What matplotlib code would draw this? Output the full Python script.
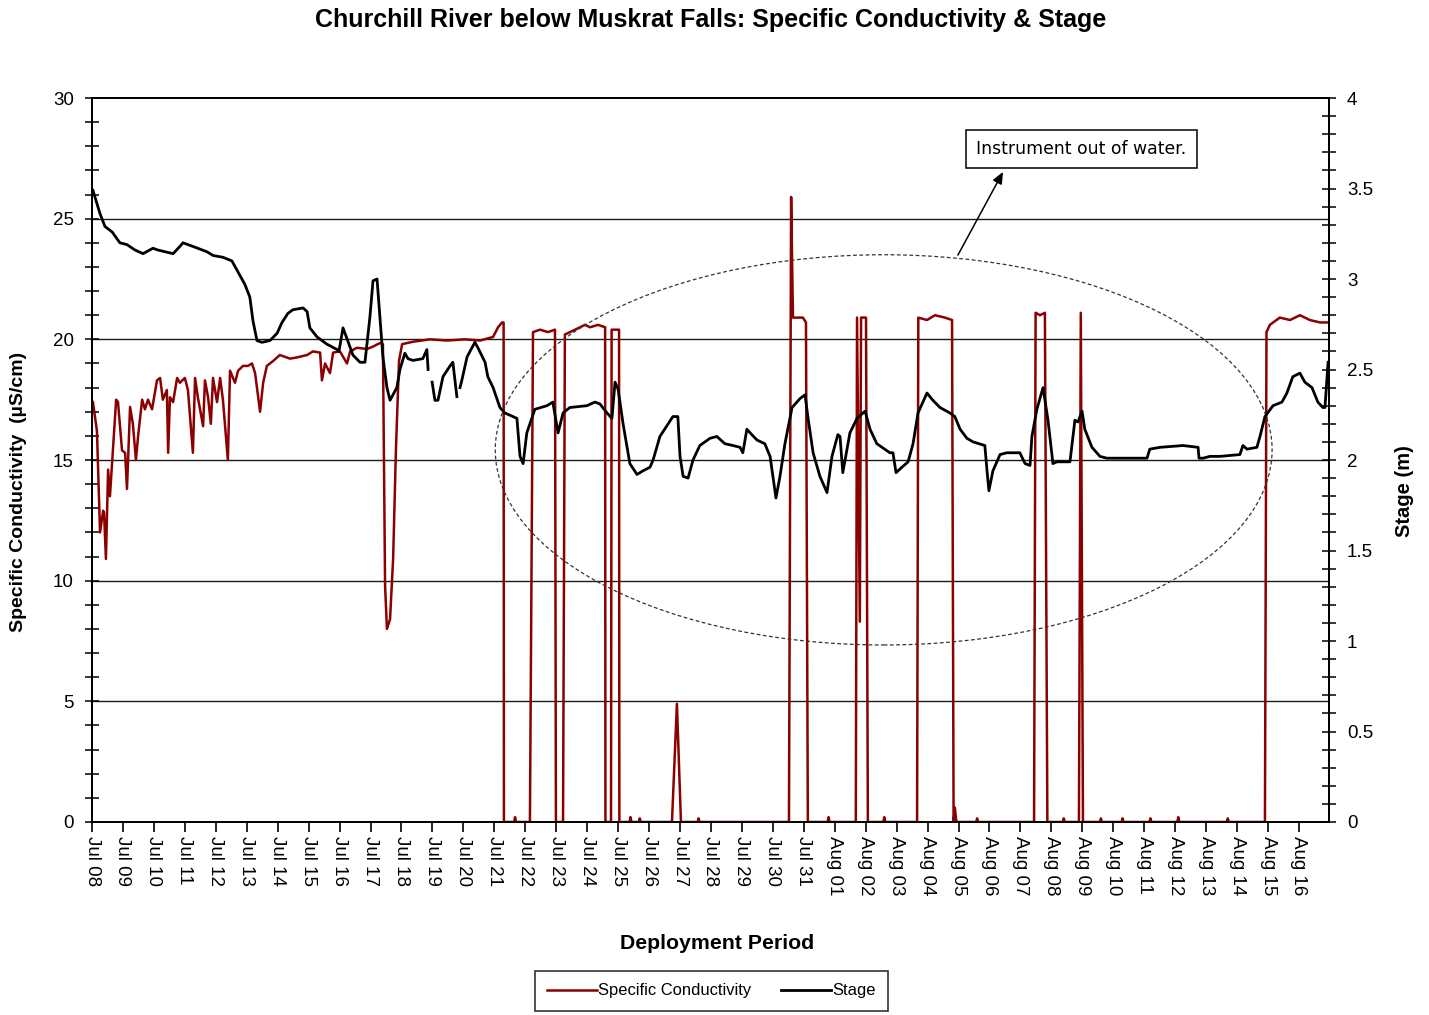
import numpy as np
import pandas as pd
import matplotlib
matplotlib.use('Agg')
import matplotlib.pyplot as plt
import matplotlib.dates as mdates
from matplotlib.patches import Ellipse
from matplotlib.ticker import MultipleLocator

start = pd.Timestamp('2011-07-08')

# ---- Specific conductivity (uS/cm): time in days since Jul 08 00:00
cond_day = [0.03, 0.16, 0.26, 0.36, 0.39, 0.45, 0.52, 0.58, 0.68, 0.78, 0.84, 0.97, 1.07, 1.13,
            1.23, 1.32, 1.42, 1.49, 1.62, 1.71, 1.81, 1.94, 2.10, 2.20, 2.29, 2.42, 2.46, 2.52,
            2.62, 2.75, 2.84, 3.00, 3.10, 3.26, 3.33, 3.42, 3.59, 3.65, 3.75, 3.84, 3.91, 4.04,
            4.14, 4.23, 4.39, 4.46, 4.62, 4.72, 4.88, 5.04, 5.17, 5.27, 5.43, 5.53, 5.65, 5.85,
            6.07, 6.40, 6.62, 6.95, 7.14, 7.37, 7.43, 7.53, 7.69, 7.79, 8.01, 8.24, 8.34, 8.56,
            8.89, 9.08, 9.31, 9.40, 9.47, 9.53, 9.63, 9.73, 9.82, 9.92, 10.02, 10.37, 10.92,
            11.47, 12.05, 12.54, 12.96, 13.12, 13.25, 13.30,
            13.31, 13.64, 13.67, 13.70, 14.15,
            14.25, 14.48, 14.73, 14.96, 14.99, 15.22,
            15.28, 15.61, 15.93, 16.09, 16.35, 16.58, 16.59, 16.77,
            16.79, 17.03, 17.04, 17.37, 17.40, 17.43, 17.67, 17.70, 17.73,
            18.74, 18.90, 19.03, 19.57, 19.60, 19.63,
            22.52, 22.59, 22.65, 22.97, 23.07, 23.13, 23.77, 23.80, 23.83,
            24.68, 24.72, 24.81, 24.85, 25.01, 25.07, 25.57, 25.60, 25.63,
            26.66, 26.70, 26.98, 27.24, 27.56, 27.79, 27.84, 27.88, 27.93, 28.57, 28.60, 28.63,
            30.44, 30.49, 30.63, 30.79, 30.87, 31.37, 31.40, 31.43,
            31.89, 31.95, 32.02, 32.57, 32.60, 32.63, 33.27, 33.30, 33.33, 34.17, 34.20, 34.23,
            35.07, 35.10, 35.13, 36.67, 36.70, 36.73,
            37.90, 37.95, 38.06, 38.38, 38.71, 39.03, 39.35, 39.68, 39.97]
cond_val = [17.4, 16.2, 12.0, 12.9, 12.8, 10.9, 14.6, 13.5, 15.5, 17.5, 17.4, 15.4, 15.3, 13.8,
            17.2, 16.5, 15.0, 16.0, 17.5, 17.1, 17.5, 17.1, 18.3, 18.4, 17.5, 17.9, 15.3, 17.6,
            17.4, 18.4, 18.2, 18.4, 17.9, 15.3, 18.4, 17.6, 16.4, 18.3, 17.6, 16.5, 18.4, 17.4,
            18.4, 17.5, 15.0, 18.7, 18.2, 18.7, 18.9, 18.9, 19.0, 18.6, 17.0, 18.2, 18.9, 19.1,
            19.35, 19.2, 19.25, 19.35, 19.5, 19.45, 18.3, 19.0, 18.6, 19.45, 19.5, 19.0, 19.5, 19.65,
            19.6, 19.7, 19.85, 19.8, 9.8, 8.0, 8.4, 10.9, 15.4, 19.1, 19.8, 19.9, 20.0,
            19.95, 20.0, 19.95, 20.1, 20.5, 20.7, 20.7,
            0.0, 0.0, 0.2, 0.0, 0.0,
            20.3, 20.4, 20.3, 20.4, 0.0, 0.0,
            20.2, 20.4, 20.6, 20.5, 20.6, 20.5, 0.0, 0.0,
            20.4, 20.4, 0.0, 0.0, 0.2, 0.0, 0.0, 0.15, 0.0,
            0.0, 4.9, 0.0, 0.0, 0.15, 0.0,
            0.0, 25.9, 20.9, 20.9, 20.7, 0.0, 0.0, 0.2, 0.0,
            0.0, 20.9, 8.3, 20.9, 20.9, 0.0, 0.0, 0.2, 0.0,
            0.0, 20.9, 20.8, 21.0, 20.9, 20.8, 0.0, 0.6, 0.0, 0.0, 0.15, 0.0,
            0.0, 21.1, 21.0, 21.1, 0.0, 0.0, 0.15, 0.0,
            0.0, 21.1, 0.0, 0.0, 0.15, 0.0, 0.0, 0.15, 0.0, 0.0, 0.15, 0.0,
            0.0, 0.2, 0.0, 0.0, 0.15, 0.0,
            0.0, 20.3, 20.6, 20.9, 20.8, 21.0, 20.8, 20.7, 20.7]

# ---- Stage (m)
stage_day = [0.03, 0.10, 0.26, 0.42, 0.65, 0.90, 1.13, 1.39, 1.65, 1.97, 2.13, 2.62, 2.84, 2.94,
             3.26, 3.72, 3.91, 4.23, 4.52, 4.68, 4.94, 5.10, 5.20, 5.33, 5.49, 5.75, 5.98, 6.14,
             6.33, 6.49, 6.82, 6.95, 7.04, 7.27, 7.59, 7.92, 7.98, 8.11, 8.24, 8.43, 8.66, 8.82,
             8.98, 9.08, 9.21, 9.31, 9.40, 9.53, 9.63, 9.85, 9.95, 10.11, 10.21, 10.37, 10.69,
             10.82, 10.86, 10.92, 10.99, 11.08, 11.18, 11.34, 11.57, 11.66, 11.79, 11.84, 11.89,
             11.95, 12.12, 12.37, 12.47, 12.70, 12.79, 12.96, 13.18, 13.34, 13.73, 13.83, 13.93,
             14.05, 14.31, 14.70, 14.89, 15.06, 15.22, 15.44, 15.99, 16.25, 16.41, 16.64, 16.80,
             16.90, 17.00, 17.16, 17.38, 17.61, 17.80, 18.03, 18.13, 18.35, 18.58, 18.77, 18.93,
             19.00, 19.10, 19.26, 19.42, 19.64, 19.97, 20.19, 20.45, 20.71, 20.94, 21.03, 21.16,
             21.32, 21.49, 21.74, 21.91, 22.00, 22.10, 22.23, 22.39, 22.62, 22.88, 23.04, 23.13,
             23.30, 23.52, 23.75, 23.91, 24.10, 24.17, 24.26, 24.49, 24.72, 24.98, 25.14, 25.36,
             25.78, 25.88, 25.98, 26.17, 26.37, 26.53, 26.69, 26.98, 27.17, 27.40, 27.72, 27.88,
             28.05, 28.27, 28.47, 28.85, 28.92, 28.98, 29.11, 29.34, 29.56, 29.98, 30.15, 30.31,
             30.37, 30.53, 30.73, 30.89, 31.05, 31.18, 31.60, 31.76, 31.86, 31.99, 32.08, 32.31,
             32.57, 32.79, 33.63, 34.09, 34.18, 34.51, 35.25, 35.74, 35.77, 35.90, 36.12, 36.45,
             37.09, 37.19, 37.32, 37.64, 37.74, 37.90, 38.16, 38.45, 38.61, 38.80, 39.03, 39.19,
             39.42, 39.61, 39.77, 39.84, 39.94]
stage_m = [3.49, 3.45, 3.36, 3.29, 3.26, 3.20, 3.19, 3.16, 3.14, 3.17, 3.16, 3.14, 3.18, 3.20,
           3.18, 3.15, 3.13, 3.12, 3.10, 3.05, 2.97, 2.90, 2.77, 2.66, 2.65, 2.66, 2.70, 2.76,
           2.81, 2.83, 2.84, 2.82, 2.73, 2.68, 2.64, 2.61, 2.60, 2.73, 2.67, 2.58, 2.54, 2.54,
           2.79, 2.99, 3.00, 2.77, 2.57, 2.40, 2.33, 2.40, 2.50, 2.59, 2.56, 2.55, 2.56,
           2.61, 2.50, np.nan, 2.43, 2.33, 2.33, 2.46, 2.52, 2.54, 2.35, np.nan, 2.40,
           2.44, 2.57, 2.65, 2.62, 2.54, 2.46, 2.40, 2.29, 2.26, 2.23, 2.02, 1.98,
           2.15, 2.28, 2.30, 2.32, 2.15, 2.26, 2.29, 2.30, 2.32, 2.31, 2.26, 2.23,
           2.43, 2.39, 2.20, 1.98, 1.92, 1.94, 1.96, 2.00, 2.13, 2.19, 2.24, 2.24,
           2.02, 1.91, 1.90, 2.00, 2.08, 2.12, 2.13, 2.09, 2.08, 2.07, 2.04, 2.17,
           2.14, 2.11, 2.09, 2.02, 1.91, 1.79, 1.91, 2.09, 2.29, 2.34, 2.36, 2.24,
           2.04, 1.91, 1.82, 2.02, 2.14, 2.13, 1.93, 2.15, 2.23, 2.27, 2.17, 2.09,
           2.04, 2.04, 1.93, 1.96, 1.99, 2.09, 2.26, 2.37, 2.33, 2.29, 2.26, 2.24,
           2.17, 2.12, 2.10, 2.08, 1.94, 1.83, 1.94, 2.03, 2.04, 2.04, 1.98, 1.97,
           2.13, 2.28, 2.40, 2.22, 1.98, 1.99, 1.99, 2.22, 2.21, 2.27, 2.17, 2.07,
           2.02, 2.01, 2.01, 2.01, 2.06, 2.07, 2.08, 2.07, 2.01, 2.01, 2.02, 2.02,
           2.03, 2.08, 2.06, 2.07, 2.13, 2.24, 2.30, 2.32, 2.37, 2.46, 2.48, 2.43,
           2.40, 2.32, 2.29, 2.29, 2.54]

x_start_day, x_end_day = 0.0, 39.97
left_ticks = [0, 5, 10, 15, 20, 25, 30]
right_ticks = [0, 0.5, 1, 1.5, 2, 2.5, 3, 3.5, 4]
right_labels = ['0', '0.5', '1', '1.5', '2', '2.5', '3', '3.5', '4']

plt.rcParams['font.family'] = ['Liberation Sans', 'DejaVu Sans']

W, H = 1429, 1015
fig = plt.figure(figsize=(W / 100, H / 100), dpi=100)
ax = fig.add_axes([92 / W, 1 - 822 / H, (1329 - 92) / W, (822 - 98) / H])
ax2 = ax.twinx()

t_c = start + pd.to_timedelta(cond_day, unit='D')
t_s = start + pd.to_timedelta(stage_day, unit='D')

red = '#8b0000'
l1, = ax.plot(t_c, cond_val, color=red, lw=1.8, label='Specific Conductivity', zorder=3)
l2, = ax2.plot(t_s, stage_m, color='black', lw=2.0, label='Stage', zorder=3)

ax.set_xlim(start + pd.Timedelta(days=x_start_day), start + pd.Timedelta(days=x_end_day))
ax.set_ylim(0, 30)
ax2.set_ylim(0, 4)

for v in left_ticks[1:-1]:
    ax.axhline(v, color='#1a1a1a', lw=1.0, zorder=1)

ax.set_yticks(left_ticks)
ax.yaxis.set_minor_locator(MultipleLocator(1))
ax2.set_yticks(right_ticks)
ax2.set_yticklabels(right_labels)
ax2.yaxis.set_minor_locator(MultipleLocator(0.1))

ax.xaxis.set_major_locator(mdates.DayLocator())
ax.xaxis.set_major_formatter(mdates.DateFormatter('%b %d'))
ax.tick_params(axis='x', which='major', direction='out', length=7, width=1.2,
               labelsize=13.5, pad=3)
for lab in ax.get_xticklabels():
    lab.set_rotation(-90)
    lab.set_ha('center')
    lab.set_va('top')

ax.tick_params(axis='y', which='both', direction='inout', length=10, width=1.1,
               labelsize=13.5, pad=8)
ax2.tick_params(axis='y', which='both', direction='inout', length=10, width=1.1,
                labelsize=13.5, pad=8)

for a in (ax, ax2):
    for s in a.spines.values():
        s.set_color('black')
        s.set_linewidth(1.3)

ax.set_ylabel('Specific Conductivity  (\u00b5S/cm)', fontsize=14, fontweight='bold')
ax.yaxis.set_label_coords(-0.0525, 0.456)
ax2.set_ylabel('Stage (m)', fontsize=14.5, fontweight='bold')
ax2.yaxis.set_label_coords(1.0534, 0.457)
ax.set_xlabel('Deployment Period', fontsize=15.3, fontweight='bold')
ax.xaxis.set_label_coords(0.505, -0.155)

fig.text(0.497, 1 - 20 / H, 'Churchill River below Muskrat Falls: Specific Conductivity & Stage',
         ha='center', va='center', fontsize=18, fontweight='bold')

# ellipse marking period with instrument out of water
ell = Ellipse((0.640, 0.514), 0.628, 0.539, transform=ax.transAxes, fill=False,
              ls=(0, (3, 2)), lw=0.9, ec='#333333', zorder=4)
ax.add_patch(ell)
ax.annotate('', xy=(0.7365, 0.898), xytext=(0.700, 0.783), xycoords='axes fraction',
            textcoords='axes fraction',
            arrowprops=dict(arrowstyle='-|>,head_length=0.7,head_width=0.3',
                            color='black', lw=1.1, shrinkA=0, shrinkB=0), zorder=5)
ax.text(0.800, 0.9296, 'Instrument out of water.', transform=ax.transAxes,
        ha='center', va='center', fontsize=12.4, family=['DejaVu Sans'],
        bbox=dict(boxstyle='square,pad=0.6', fc='white', ec='black', lw=1.1), zorder=6)

leg = fig.legend(handles=[l1, l2], loc='center', bbox_to_anchor=(0.498, 1 - 991 / H),
                 ncol=2, fontsize=11.9, frameon=True, fancybox=False, edgecolor='black',
                 handlelength=3.0, columnspacing=1.8, borderpad=0.75, handletextpad=0.1)
leg.get_frame().set_linewidth(1.2)

fig.savefig('out.png', dpi=100)
